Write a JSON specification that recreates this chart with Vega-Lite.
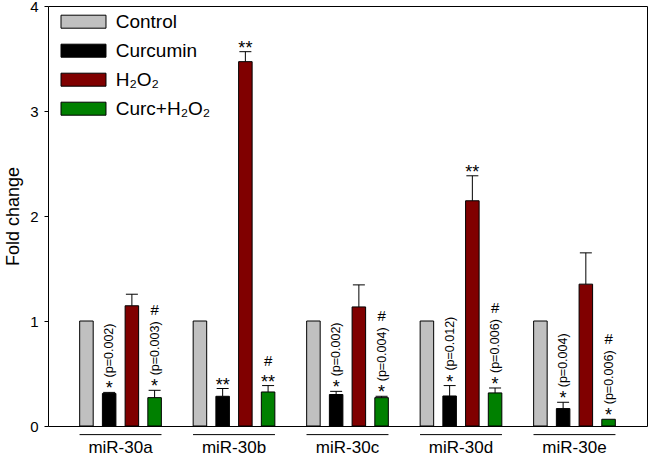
{
  "$schema": "https://vega.github.io/schema/vega-lite/v6.json",
  "width": 599,
  "height": 420,
  "autosize": {"type": "none"},
  "padding": {"left": 48, "top": 6, "right": 1, "bottom": 32},
  "config": {
    "font": "Liberation Sans",
    "view": {"stroke": "#000", "strokeWidth": 1},
    "axis": {"grid": false, "labelColor": "#000", "titleColor": "#000", "tickColor": "#000", "domainColor": "#000"}
  },
  "datasets": {
    "bars": [
      {"group": "miR-30a", "series": "Control", "value": 1.0, "upper": 1.0, "star": "", "p": "", "hash": ""},
      {"group": "miR-30a", "series": "Curcumin", "value": 0.31, "upper": 0.32, "star": "*", "p": "(p=0.002)", "hash": ""},
      {"group": "miR-30a", "series": "H₂O₂", "value": 1.145, "upper": 1.255, "star": "", "p": "", "hash": ""},
      {"group": "miR-30a", "series": "Curc+H₂O₂", "value": 0.27, "upper": 0.34, "star": "*", "p": "(p=0.003)", "hash": "#"},
      {"group": "miR-30b", "series": "Control", "value": 1.0, "upper": 1.0, "star": "", "p": "", "hash": ""},
      {"group": "miR-30b", "series": "Curcumin", "value": 0.283, "upper": 0.357, "star": "**", "p": "", "hash": ""},
      {"group": "miR-30b", "series": "H₂O₂", "value": 3.47, "upper": 3.565, "star": "**", "p": "", "hash": ""},
      {"group": "miR-30b", "series": "Curc+H₂O₂", "value": 0.324, "upper": 0.385, "star": "**", "p": "", "hash": "#"},
      {"group": "miR-30c", "series": "Control", "value": 1.0, "upper": 1.0, "star": "", "p": "", "hash": ""},
      {"group": "miR-30c", "series": "Curcumin", "value": 0.30, "upper": 0.33, "star": "*", "p": "(p=0.002)", "hash": ""},
      {"group": "miR-30c", "series": "H₂O₂", "value": 1.134, "upper": 1.344, "star": "", "p": "", "hash": ""},
      {"group": "miR-30c", "series": "Curc+H₂O₂", "value": 0.27, "upper": 0.283, "star": "*", "p": "(p=0.004)", "hash": "#"},
      {"group": "miR-30d", "series": "Control", "value": 1.0, "upper": 1.0, "star": "", "p": "", "hash": ""},
      {"group": "miR-30d", "series": "Curcumin", "value": 0.286, "upper": 0.385, "star": "*", "p": "(p=0.012)", "hash": ""},
      {"group": "miR-30d", "series": "H₂O₂", "value": 2.145, "upper": 2.383, "star": "**", "p": "", "hash": ""},
      {"group": "miR-30d", "series": "Curc+H₂O₂", "value": 0.315, "upper": 0.362, "star": "*", "p": "(p=0.006)", "hash": "#"},
      {"group": "miR-30e", "series": "Control", "value": 1.0, "upper": 1.0, "star": "", "p": "", "hash": ""},
      {"group": "miR-30e", "series": "Curcumin", "value": 0.166, "upper": 0.226, "star": "*", "p": "(p=0.004)", "hash": ""},
      {"group": "miR-30e", "series": "H₂O₂", "value": 1.351, "upper": 1.649, "star": "", "p": "", "hash": ""},
      {"group": "miR-30e", "series": "Curc+H₂O₂", "value": 0.064, "upper": 0.064, "star": "*", "p": "(p=0.006)", "hash": "#"}
    ],
    "groups": [
      {"group": "miR-30a"}, {"group": "miR-30b"}, {"group": "miR-30c"}, {"group": "miR-30d"}, {"group": "miR-30e"}
    ]
  },
  "encoding": {
    "x": {
      "field": "group", "type": "nominal",
      "scale": {"type": "band", "paddingInner": 0, "paddingOuter": 0.139},
      "axis": {"title": null, "domain": false, "ticks": false, "labelFontSize": 17, "labelPadding": 13, "labelAngle": 0}
    }
  },
  "layer": [
    {
      "data": {"name": "bars"},
      "mark": {"type": "bar", "stroke": "#000", "strokeWidth": 1},
      "encoding": {
        "xOffset": {"field": "series", "type": "nominal", "sort": ["Control", "Curcumin", "H₂O₂", "Curc+H₂O₂"], "scale": {"paddingInner": 0.405, "paddingOuter": 0.7}},
        "y": {
          "field": "value", "type": "quantitative",
          "scale": {"domain": [0, 4], "nice": false},
          "axis": {"values": [0, 1, 2, 3, 4], "format": "d", "tickSize": 4, "labelFontSize": 15, "labelPadding": 6, "domain": false, "titleFontSize": 18, "titleFontWeight": "normal", "titlePadding": 7},
          "title": "Fold change"
        },
        "color": {
          "field": "series", "type": "nominal",
          "scale": {"domain": ["Control", "Curcumin", "H₂O₂", "Curc+H₂O₂"], "range": ["#C0C0C0", "#000000", "#800000", "#008000"]},
          "legend": {
            "title": null, "orient": "none", "legendX": 26, "legendY": 6.2, "padding": 0,
            "symbolType": "M-3.46,-1H3.46V1H-3.46Z", "symbolSize": 169,
            "symbolStrokeColor": "#000", "symbolStrokeWidth": 1, "symbolOpacity": 1,
            "labelFontSize": 19, "labelColor": "#000", "labelOffset": 22.7, "rowPadding": 9
          }
        }
      }
    },
    {
      "data": {"name": "bars"},
      "transform": [{"filter": "datum.upper > datum.value"}],
      "mark": {"type": "rule", "color": "#000", "strokeWidth": 1},
      "encoding": {
        "xOffset": {"field": "series", "type": "nominal", "sort": ["Control", "Curcumin", "H₂O₂", "Curc+H₂O₂"]},
        "y": {"field": "value", "type": "quantitative"},
        "y2": {"field": "upper"}
      }
    },
    {
      "data": {"name": "bars"},
      "transform": [{"filter": "datum.upper > datum.value"}],
      "mark": {"type": "tick", "color": "#000", "thickness": 1, "size": 12, "opacity": 1},
      "encoding": {
        "xOffset": {"field": "series", "type": "nominal", "sort": ["Control", "Curcumin", "H₂O₂", "Curc+H₂O₂"]},
        "y": {"field": "upper", "type": "quantitative"}
      }
    },
    {
      "data": {"name": "bars"},
      "transform": [{"filter": "datum.star != ''"}],
      "mark": {"type": "text", "color": "#000", "fontSize": 18, "baseline": "alphabetic", "align": "center", "dy": 2},
      "encoding": {
        "xOffset": {"field": "series", "type": "nominal", "sort": ["Control", "Curcumin", "H₂O₂", "Curc+H₂O₂"]},
        "y": {"field": "upper", "type": "quantitative"},
        "text": {"field": "star"}
      }
    },
    {
      "data": {"name": "bars"},
      "transform": [{"filter": "datum.p != ''"}],
      "mark": {"type": "text", "color": "#000", "fontSize": 12.5, "angle": 270, "align": "left", "baseline": "middle", "dx": 15},
      "encoding": {
        "xOffset": {"field": "series", "type": "nominal", "sort": ["Control", "Curcumin", "H₂O₂", "Curc+H₂O₂"]},
        "y": {"field": "upper", "type": "quantitative"},
        "text": {"field": "p"}
      }
    },
    {
      "data": {"name": "bars"},
      "transform": [{"filter": "datum.hash != '' && datum.p != ''"}],
      "mark": {"type": "text", "color": "#000", "fontSize": 15, "baseline": "middle", "align": "center", "dy": -80},
      "encoding": {
        "xOffset": {"field": "series", "type": "nominal", "sort": ["Control", "Curcumin", "H₂O₂", "Curc+H₂O₂"]},
        "y": {"field": "upper", "type": "quantitative"},
        "text": {"field": "hash"}
      }
    },
    {
      "data": {"name": "bars"},
      "transform": [{"filter": "datum.hash != '' && datum.p == ''"}],
      "mark": {"type": "text", "color": "#000", "fontSize": 15, "baseline": "middle", "align": "center", "dy": -25},
      "encoding": {
        "xOffset": {"field": "series", "type": "nominal", "sort": ["Control", "Curcumin", "H₂O₂", "Curc+H₂O₂"]},
        "y": {"field": "upper", "type": "quantitative"},
        "text": {"field": "hash"}
      }
    },
    {
      "data": {"name": "groups"},
      "mark": {"type": "rule", "color": "#000", "strokeWidth": 1},
      "encoding": {
        "x": {"field": "group", "type": "nominal", "bandPosition": 0.139},
        "x2": {"field": "group", "bandPosition": 0.861},
        "y": {"datum": -0.082, "type": "quantitative"}
      }
    }
  ]
}
